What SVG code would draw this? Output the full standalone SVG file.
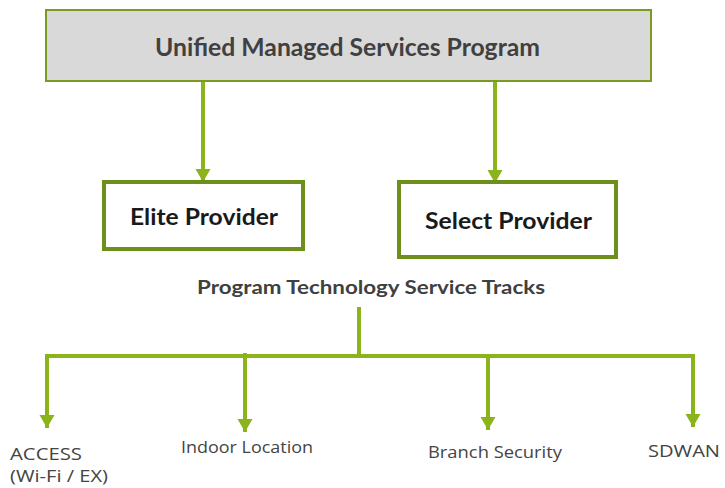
<svg xmlns="http://www.w3.org/2000/svg" width="725" height="488" viewBox="0 0 725 488">
<style>
.line{stroke:#8ab31c;stroke-width:4;fill:none}
.title{font-family:Lato,"Open Sans",sans-serif;font-weight:bold;fill:#404040}
.prov{font-family:Lato,"Open Sans",sans-serif;font-weight:bold;fill:#1a1a1a;font-size:22px}
.lbl{font-family:"Open Sans","Noto Sans",sans-serif;fill:#444;font-size:16px}
</style>
<defs>
<marker id="ah" markerUnits="userSpaceOnUse" markerWidth="16" markerHeight="16" refX="13" refY="7.5" orient="auto">
<path d="M0,0 L13,7.5 L0,15 Z" fill="#8ab31c"/>
</marker>
</defs>
<rect width="725" height="488" fill="#fff"/>
<g id="connectors">
<line class="line" x1="203" y1="81" x2="203" y2="182" marker-end="url(#ah)"/>
<line class="line" x1="495" y1="81" x2="495" y2="183" marker-end="url(#ah)"/>
<line class="line" x1="359" y1="307" x2="359" y2="356"/>
<path class="line" d="M47,428 V356 H693 V427"/>
<line class="line" x1="47" y1="360" x2="47" y2="428" marker-end="url(#ah)"/>
<line class="line" x1="245" y1="353" x2="245" y2="432" marker-end="url(#ah)"/>
<line class="line" x1="488" y1="356" x2="488" y2="430" marker-end="url(#ah)"/>
<line class="line" x1="693" y1="360" x2="693" y2="427" marker-end="url(#ah)"/>
</g>
<g id="program">
<rect x="46" y="10" width="605" height="71" fill="#d9d9d9" stroke="#7c9a1f" stroke-width="2"/>
<text class="title" x="155" y="56" font-size="24" textLength="385" lengthAdjust="spacingAndGlyphs">Unified Managed Services Program</text>
</g>
<g id="elite">
<rect x="104" y="182" width="199" height="67" fill="#fff" stroke="#6e8f1c" stroke-width="4"/>
<text class="prov" x="130" y="225" textLength="148" lengthAdjust="spacingAndGlyphs">Elite Provider</text>
</g>
<g id="select">
<rect x="399" y="182" width="217" height="75" fill="#fff" stroke="#6e8f1c" stroke-width="4"/>
<text class="prov" x="425" y="229" textLength="167" lengthAdjust="spacingAndGlyphs">Select Provider</text>
</g>
<g id="tracks">
<text class="title" x="197" y="294" font-size="19" textLength="348" lengthAdjust="spacingAndGlyphs">Program Technology Service Tracks</text>
</g>
<g id="access">
<text class="lbl" x="10" y="460" textLength="72" lengthAdjust="spacingAndGlyphs">ACCESS</text>
<text class="lbl" x="10" y="482" textLength="98" lengthAdjust="spacingAndGlyphs">(Wi-Fi / EX)</text>
</g>
<g id="indoor">
<text class="lbl" x="181" y="453" textLength="132" lengthAdjust="spacingAndGlyphs">Indoor Location</text>
</g>
<g id="branch">
<text class="lbl" x="428" y="458" textLength="134" lengthAdjust="spacingAndGlyphs">Branch Security</text>
</g>
<g id="sdwan">
<text class="lbl" x="648" y="457" textLength="72" lengthAdjust="spacingAndGlyphs">SDWAN</text>
</g>
</svg>
